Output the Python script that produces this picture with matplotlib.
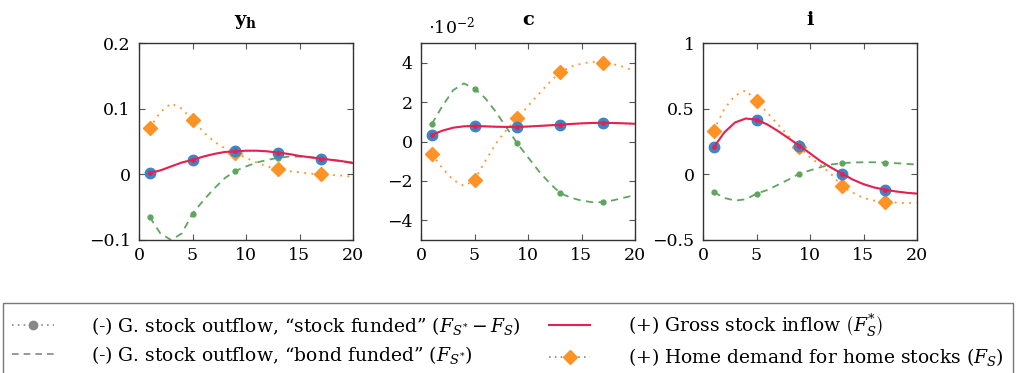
import matplotlib

matplotlib.use('Agg')
import matplotlib.pyplot as plt
import numpy as np
from matplotlib.lines import Line2D
from matplotlib.ticker import FuncFormatter

plt.rcParams['font.family'] = ['DejaVu Serif']
plt.rcParams['mathtext.fontset'] = 'dejavuserif'

x = list(range(1, 21))

# y_h panel
yh_gross = [0.002, 0.006, 0.012, 0.018, 0.022, 0.027, 0.031, 0.034, 0.035, 0.036,
            0.036, 0.035, 0.033, 0.031, 0.028, 0.026, 0.024, 0.022, 0.020, 0.017]
yh_stock = yh_gross  # coincides with gross inflow
yh_bond = [-0.065, -0.090, -0.100, -0.090, -0.060, -0.040, -0.022, -0.006, 0.005, 0.012,
           0.018, 0.022, 0.025, 0.027, 0.027, 0.026, 0.024, 0.022, 0.020, 0.018]
yh_home = [0.070, 0.095, 0.108, 0.100, 0.083, 0.065, 0.050, 0.040, 0.033, 0.025,
           0.018, 0.012, 0.008, 0.005, 0.003, 0.001, 0.000, -0.001, -0.002, -0.004]

# c panel (units of 1e-2)
c_gross = [0.33, 0.55, 0.70, 0.77, 0.79, 0.77, 0.75, 0.74, 0.74, 0.76,
           0.79, 0.82, 0.85, 0.89, 0.92, 0.94, 0.95, 0.94, 0.92, 0.90]
c_stock = c_gross
c_bond = [0.88, 1.8, 2.6, 2.95, 2.69, 2.2, 1.5, 0.7, -0.1, -0.8,
          -1.5, -2.1, -2.62, -2.85, -3.0, -3.08, -3.08, -2.98, -2.85, -2.72]
c_home = [-0.64, -1.35, -1.95, -2.25, -1.97, -1.0, -0.1, 0.6, 1.17, 1.8,
          2.4, 3.0, 3.52, 3.8, 3.95, 4.05, 4.0, 3.92, 3.78, 3.55]

# i panel
i_gross = [0.205, 0.32, 0.395, 0.425, 0.416, 0.38, 0.33, 0.275, 0.218, 0.16,
           0.10, 0.05, 0.005, -0.04, -0.075, -0.10, -0.117, -0.13, -0.14, -0.147]
i_stock = i_gross
i_bond = [-0.135, -0.18, -0.20, -0.19, -0.147, -0.12, -0.08, -0.04, 0.005, 0.03,
          0.055, 0.075, 0.086, 0.09, 0.092, 0.092, 0.089, 0.085, 0.08, 0.074]
i_home = [0.333, 0.50, 0.60, 0.64, 0.556, 0.47, 0.38, 0.29, 0.205, 0.13,
          0.07, 0.00, -0.09, -0.14, -0.18, -0.20, -0.208, -0.215, -0.22, -0.215]

panels = [
    (r'$\mathbf{y_h}$', yh_stock, yh_bond, yh_gross, yh_home, (-0.1, 0.2), [-0.1, 0, 0.1, 0.2]),
    (r'$\mathbf{c}$', c_stock, c_bond, c_gross, c_home, (-5, 5), [-4, -2, 0, 2, 4]),
    (r'$\mathbf{i}$', i_stock, i_bond, i_gross, i_home, (-0.5, 1), [-0.5, 0, 0.5, 1]),
]

blue = '#3d85c6'
green = '#5fa55f'
red = '#e8204f'
orange = '#ff9224'
grey = '#888888'

fig = plt.figure(figsize=(10.16, 3.73), dpi=100)
lefts = [139, 421, 703]

fmt = FuncFormatter(lambda v, p: ('%g' % v).replace('-', '\u2212'))

for left, (title, stock, bond, gross, home, ylim, yticks) in zip(lefts, panels):
    ax = fig.add_axes([left / 1016, 133 / 373, 214 / 1016, 197 / 373])
    mk = slice(0, None, 4)
    ax.plot(x, bond, color=green, ls=(0, (4, 3)), lw=1.3, marker='o', ms=3.5,
            markevery=mk, zorder=2)
    ax.plot(x, home, color=orange, ls=(0, (1, 3)), lw=1.3, marker='D', ms=7,
            markevery=mk, zorder=3)
    ax.plot(x, stock, color=blue, ls=':', lw=1.0, marker='o', ms=7.5,
            markevery=mk, zorder=4)
    ax.plot(x, gross, color=red, lw=1.5, marker='o', ms=2.5, markevery=mk, zorder=5)
    ax.set_xlim(0, 20)
    ax.set_ylim(*ylim)
    ax.set_xticks([0, 5, 10, 15, 20])
    ax.set_yticks(yticks)
    ax.yaxis.set_major_formatter(fmt)
    ax.tick_params(direction='in', top=True, right=True, length=4, width=0.8,
                   color='#555555', labelsize=12.5)
    ax.tick_params(axis='y', pad=6)
    ax.tick_params(axis='x', pad=5)
    for s in ax.spines.values():
        s.set_color('#333333')
        s.set_linewidth(1.0)
    ax.set_title(title, fontsize=14, pad=13)

fig.text(428 / 1016, 1 - 26 / 373, r'$\cdot10^{-2}$', fontsize=12.5, va='center', ha='left')

handles = [
    Line2D([], [], color=grey, ls=(0, (1, 2.5)), lw=1.2, marker='o', ms=6),
    Line2D([], [], color=grey, ls=(0, (4, 3)), lw=1.2),
    Line2D([], [], color=red, lw=1.5),
    Line2D([], [], color=grey, ls=(0, (1, 2.5)), lw=1.2, marker='D', ms=7,
           markerfacecolor=orange, markeredgecolor=orange),
]
labels = [
    '(-) G. stock outflow, \u201cstock funded\u201d ' + r'$\left(F_{S^{*}} - F_S\right)$',
    '(-) G. stock outflow, \u201cbond funded\u201d ' + r'$\left(F_{S^{*}}\right)$',
    r'(+) Gross stock inflow $\left(F_S^{*}\right)$',
    r'(+) Home demand for home stocks $\left(F_S\right)$',
]
leg = fig.legend(handles, labels, loc='upper left', ncol=2, mode='expand',
                 bbox_to_anchor=(3 / 1016, 0, 1010 / 1016, 70 / 373),
                 fontsize=13.5, frameon=True, fancybox=False, handlelength=2.2,
                 handletextpad=2.0, borderaxespad=0, labelspacing=0.4,
                 borderpad=0.5, columnspacing=2)
leg.get_frame().set_edgecolor('#555555')
leg.get_frame().set_linewidth(1.0)

fig.savefig('out.png', dpi=100)
